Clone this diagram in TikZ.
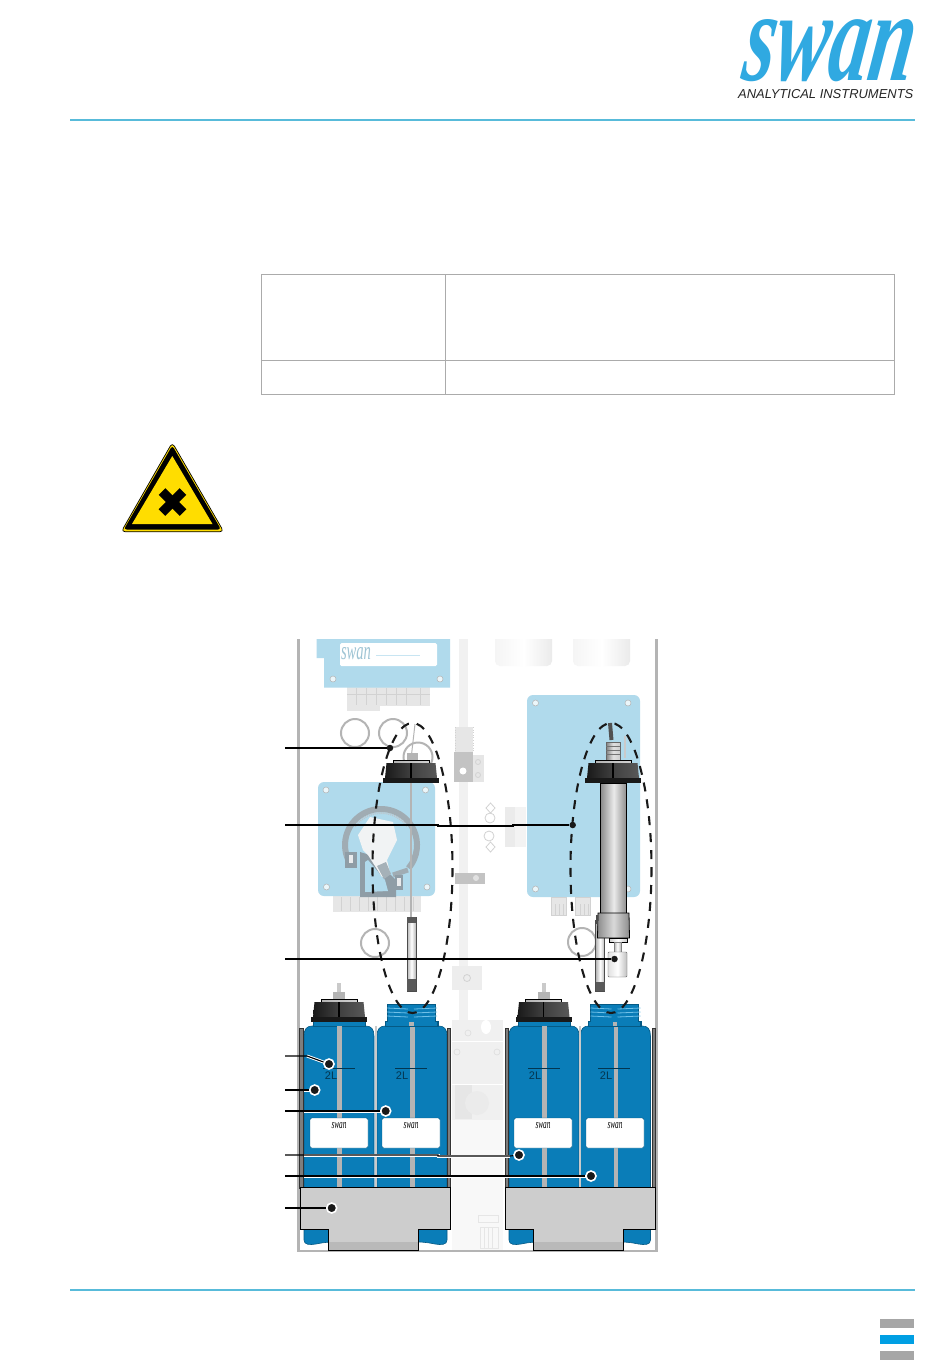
\documentclass[tikz,border=0pt]{standalone}
\usepackage{fontspec}
\usepackage{graphicx}
\setmainfont{Liberation Serif}
\setsansfont{Liberation Sans}
\definecolor{swanblue}{HTML}{30A9E1}
\definecolor{ruleblue}{HTML}{58BBDA}
\definecolor{panelblue}{HTML}{B0DAEC}
\definecolor{bottleblue}{HTML}{0A7DB8}
\definecolor{bottleedge}{HTML}{055A85}
\definecolor{threadblue}{HTML}{6FC0E8}
\definecolor{faint}{HTML}{E6E6E6}
\definecolor{faintline}{HTML}{D2D2D2}
\definecolor{wallgrey}{HTML}{B4B4B4}
\definecolor{traygrey}{HTML}{CDCDCD}
\definecolor{trayshade}{HTML}{B9B9B9}
\definecolor{signyellow}{HTML}{FFDD00}
\definecolor{tablegrey}{HTML}{ABABAB}
\definecolor{pumpgrey}{HTML}{8F9DA6}
\definecolor{footblue}{HTML}{009FE3}
\newcommand{\swanword}[2]{\resizebox{#1pt}{#2pt}{\itshape swan}}
\newcommand{\swanbold}[2]{\resizebox{#1pt}{#2pt}{\bfseries\itshape swan}}
\newcommand{\myscrew}[2]{\fill[white!75!panelblue,draw=wallgrey,line width=.5pt] (#1,#2) circle (3);}
\newcommand{\mycap}[2]{%
  \begin{scope}[shift={(#1,#2)}]
    \shade[left color=wallgrey,right color=faintline,draw=black,line width=.6pt] (-18,-23) rectangle (18,-19);
    \shade[left color=black!90,right color=black!65,middle color=black!75] (-24.5,-20) -- (24.5,-20) -- (26,-5) -- (-26,-5) -- cycle;
    \fill[black!90] (-28,-5) rectangle (28,0);
    \draw[black,line width=1.2pt] (0,-20) -- (0,-5);
  \end{scope}}
\newcommand{\mybottle}[4]{%
  \begin{scope}[shift={(#1,0)}]
    \fill[bottleblue,draw=bottleedge,line width=.6pt] (0,1240) -- (0,1036) .. controls (0,1029) and (3,1026) .. (8,1026) -- (62,1026) .. controls (67,1026) and (70,1029) .. (70,1036) -- (70,1240) .. controls (70,1245) and (64,1245) .. (58,1244) .. controls (45,1241) and (25,1241) .. (12,1244) .. controls (6,1245) and (0,1245) .. (0,1240) -- cycle;
    \fill[bottleblue,draw=bottleedge,line width=.6pt] (9,1021) rectangle (61,1026);
    \fill[wallgrey] (33,1026) rectangle (37.5,1188);
    \draw[bottleedge!60!black,line width=.7pt] (#2,1068) -- (#2+32,1068);
    \node[font=\sffamily\fontsize{11}{11}\selectfont,text=bottleedge!60!black,inner sep=0pt] (twol#1) at (#2+#4,1075.7) {2L};
    \fill[white,draw=bottleedge,line width=.4pt,rounded corners=1.5pt] (#3,1118) rectangle (#3+58,1148);
    \node[inner sep=0pt] (lab#1) at (#3+29,1126) {\swanword{15}{6}};
  \end{scope}}
\newcommand{\myneck}[1]{%
  \begin{scope}[shift={(#1,0)}]
    \fill[bottleblue,draw=bottleedge,line width=.6pt] (-26,1021) -- (-24,1021) -- (-24,1004) -- (24,1004) -- (24,1021) -- (26,1021) -- (26,1026) -- (-26,1026) -- cycle;
    \foreach \yy in {1008,1012,1016}{\draw[threadblue,line width=.8pt] (-24,\yy) -- (-3,\yy+1);\draw[threadblue,line width=.8pt] (3,\yy+1) -- (26,\yy);}
    \fill[wallgrey] (-2,1022) rectangle (2.5,1026);
  \end{scope}}
\newcommand{\mytube}[3]{%
  \shade[left color=wallgrey,right color=wallgrey,middle color=white,draw=black!70,line width=.5pt] (#1,#2) rectangle (#1+9,991);
  \fill[black!65] (#1,#3) rectangle (#1+9,991);}
\tikzset{
  leader/.style={black,line width=1.1pt},
  halo/.style={white,line width=3pt},
  leaderdot/.style={circle,fill=black!90,draw=white,line width=1.6pt,minimum size=10pt,inner sep=0pt},
  plaindot/.style={circle,fill=black!90,minimum size=6.5pt,inner sep=0pt},
  dashring/.style={black!90,line width=2.1pt,dash pattern=on 9pt off 8pt},
  ring/.style={draw=wallgrey,line width=2pt,fill=none},
  traybox/.style={fill=traygrey,draw=black,line width=1pt},
  wall/.style={fill=wallgrey!70!black,draw=black!80,line width=.6pt}
}
\begin{document}
\begin{tikzpicture}[x=1pt,y=-1pt]
\useasboundingbox[fill=white] (0,0) rectangle (950,1369);
% header / footer
\node[inner sep=0pt,text=swanblue,anchor=center,transform shape,xslant=.15] (logo) at (830,51) {\swanbold{170}{61}};
\node[inner sep=0pt,anchor=base west,font=\sffamily\itshape\fontsize{12.95}{14}\selectfont,text=black!85] (logotext) at (738,98.6) {ANALYTICAL INSTRUMENTS};
\draw[ruleblue,line width=1.1pt] (70,120) -- (915,120);
\draw[ruleblue,line width=1.1pt] (70,1290) -- (915,1290);
\fill[black!35] (880,1319) rectangle (914,1328);
\fill[footblue] (880,1335) rectangle (914,1344);
\fill[black!35] (880,1351) rectangle (914,1360);
% table
\draw[tablegrey,line width=1pt] (261,274) rectangle (894,394);
\draw[tablegrey,line width=1pt] (261,360) -- (894,360);
\draw[tablegrey,line width=1pt] (445,274) -- (445,394);
% warning sign
\fill[signyellow,draw=black,line width=.7pt,line join=round,rounded corners=4pt] (172.3,442.5) -- (223.8,531.8) -- (121.2,531.8) -- cycle;
\fill[black,rounded corners=3pt] (172.3,445.5) -- (221,529.5) -- (123.8,529.5) -- cycle;
\fill[signyellow] (172.3,456) -- (212.5,524) -- (132,524) -- cycle;
\draw[black,line width=9.5pt] (162,491.5) -- (183,512.5);
\draw[black,line width=9.5pt] (183,491.5) -- (162,512.5);
% enclosure
\fill[faint!55] (459,639) rectangle (468,1250);
\fill[faint!28] (452,1120) rectangle (503,1250);
\fill[wallgrey] (297,639) rectangle (300,1252);
\fill[wallgrey] (654.5,639) rectangle (657.5,1252);
\fill[wallgrey] (297,1249.5) rectangle (657.5,1252);
% top-left box
\fill[faint] (347,687) rectangle (430,706);
\fill[faint] (347,706) rectangle (380,711);
\foreach \xx in {356,366,376,386,396,406,420}{\draw[faintline,line width=.5pt] (\xx,688) -- (\xx,705);}
\draw[faintline,line width=.5pt] (347,694) -- (430,694);
\fill[panelblue] (316.7,639) -- (450,639) -- (450,687.5) -- (324,687.5) -- (324,658) -- (316.7,658) -- cycle;
\fill[white,rounded corners=1.5pt] (340,643) rectangle (437,666);
\node[inner sep=0pt,text=panelblue!90!black] (toplogo) at (356,654) {\swanword{30}{12}};
\draw[panelblue!70,line width=.6pt] (376,655) -- (420,655);
\myscrew{333}{679}
\myscrew{440}{679}
% cylinders
\shade[left color=black!4,right color=black!8,middle color=white,rounded corners=5pt] (495,630) rectangle (552,666);
\shade[left color=black!4,right color=black!8,middle color=white,rounded corners=5pt] (573,630) rectangle (630,666);
\fill[white] (490,620) rectangle (640,639);
% right panel
\fill[panelblue,rounded corners=6pt] (527,695) rectangle (640,897);
\myscrew{535.5}{703}
\myscrew{628}{703}
\myscrew{535.5}{889}
\myscrew{628}{889}
\fill[faint,draw=faintline,line width=.4pt] (551,897) rectangle (566,915);
\fill[faint,draw=faintline,line width=.4pt] (575,897) rectangle (590,915);
\foreach \xx in {555,559,563,580,584,588}{\draw[faintline,line width=.4pt] (\xx,904) -- (\xx,915);}
% rings
\draw[ring] (355,733) circle (14);
\draw[ring] (393,733) circle (14);
\draw[ring] (375,943) circle (14);
\draw[ring] (582,942) circle (14);
% left panel
\fill[faint] (333,896) rectangle (421,912);
\foreach \xx in {341,350,359,368,377,386,395,404,413}{\draw[faintline,line width=.5pt] (\xx,897) -- (\xx,911);}
\fill[panelblue,rounded corners=6pt] (318,782) rectangle (435,896);
\myscrew{326}{790}
\myscrew{425.5}{790}
\myscrew{326.5}{887}
\myscrew{427}{887}
% pump
\draw[pumpgrey!85,line width=6pt] (348.4,860.2) arc[start angle=155,end angle=400,radius=36];
\draw[pumpgrey!60,line width=2pt,dash pattern=on 1pt off 1pt] (355,826.6) arc[start angle=215,end angle=325,radius=32];
\draw[pumpgrey!85,line width=5pt] (408,870) -- (393,875);
\fill[pumpgrey] (345,852) rectangle (357,868);
\fill[white!80!pumpgrey] (349,855) rectangle (353,863);
\fill[pumpgrey] (395,875) rectangle (403,890);
\fill[white!80!pumpgrey] (397,878) rectangle (401,886);
\fill[pumpgrey] (360,852) -- (370,855) -- (375,860) -- (396,880) -- (396,897) -- (360,897) -- cycle;
\fill[panelblue] (365,862) -- (368,860) -- (385,880) -- (388,891) -- (365,892) -- cycle;
\fill[white!88!pumpgrey] (358,835) -- (363,850) -- (368,855) -- (382,877) -- (390,873) -- (387,860) -- (397,840) -- (393,822) -- (370,817) -- cycle;
\fill[pumpgrey!80] (377,866) -- (386,862) -- (391,874) -- (384,879) -- cycle;
% centre parts
\fill[faint] (455,727) rectangle (473,752);
\draw[faintline,dotted,line width=.6pt] (455,727) -- (455,752) (473,727) -- (473,752);
\fill[faint] (473,755) rectangle (484,782);
\fill[wallgrey!80] (454,752) rectangle (473,782);
\fill[white] (463,771) circle (3.5);
\draw[faintline,line width=.8pt] (478,762) circle (2.5) (478,775) circle (2.5);
\fill[wallgrey!80] (455,873) rectangle (485,884);
\fill[white!60!wallgrey] (476,878) circle (3);
\fill[faint!50] (505,807) rectangle (526,847);
\fill[faint!80] (505,807) rectangle (515,847);
\draw[faintline,line width=.8pt] (490.5,803) -- (495,808) -- (490.5,813) -- (486,808) -- cycle;
\draw[faintline,line width=.8pt] (490.5,842) -- (495,847) -- (490.5,852) -- (486,847) -- cycle;
\draw[faintline,line width=.8pt] (490,818) circle (5) (489,836) circle (5);
\fill[faint!70] (452,966) rectangle (482,990);
\draw[faintline,line width=.8pt] (467,978) circle (3.5);
\fill[faint!60] (452,1020) rectangle (503,1120);
\draw[white,line width=.8pt] (452,1041) -- (503,1041) (452,1084) -- (503,1084);
\fill[faint] (455,1085) rectangle (472,1119);
\fill[white] (486,1027) ellipse (5 and 7);
\fill[white!92!black] (477,1103) circle (12);
\draw[faintline!70,line width=.7pt] (468,1033) circle (3) (457,1052) circle (3) (497,1052) circle (3);
\draw[faint,line width=.6pt] (478,1215) rectangle (498,1222);
\draw[faint,line width=.6pt] (480,1227) rectangle (498,1248);
\foreach \xx in {484,488,492}{\draw[faint,line width=.5pt] (\xx,1227) -- (\xx,1248);}
% left tube and lines
\draw[wallgrey,line width=1pt] (415,724) -- (411.7,753);
\draw[wallgrey,line width=2pt] (418,757) circle (14.5);
\fill[wallgrey] (407,753) rectangle (418,762);
\draw[wallgrey,line width=1.2pt] (411,783) -- (411,918);
\mytube{407}{917}{979}
\fill[black!65] (407,917) rectangle (416,923);
% right sensor
\fill[wallgrey!70] (623.5,736) rectangle (626,758);
\draw[black!55!wallgrey,line width=4pt] (610,723) -- (611.5,740);
\shade[left color=black!50,right color=black!20,middle color=black!12,draw=black!60,line width=.4pt] (606,742) rectangle (620,761);
\foreach \yy in {746,750,754}{\draw[black!55,line width=.5pt] (606,\yy) -- (620,\yy);}
\mytube{595.7}{920}{981.7}
\shade[left color=black!45,right color=black!45,middle color=black!8,draw=black,line width=1pt] (600.7,783) rectangle (626.7,914);
\shade[left color=black!45,right color=black!45,middle color=black!15,draw=black,line width=.8pt] (598,913) -- (629,913) -- (629.5,938) -- (597.5,938) -- cycle;
\fill[black!70] (595.5,915) rectangle (598,924);
\shade[left color=black!20,right color=black!20,middle color=white,draw=black,line width=.6pt] (609,938) rectangle (627,942);
\shade[left color=black!30,right color=black!30,middle color=white,draw=black!50,line width=.4pt] (614,942) rectangle (621,952);
\shade[left color=black!12,right color=black!25,middle color=white,draw=black!60,line width=.4pt,rounded corners=1pt] (608,952) rectangle (627,977);
\mycap{411}{783}
\mycap{613}{783}
% bottles
\mybottle{304}{19}{6}{8}
\mybottle{377}{18}{5}{7}
\mybottle{509}{19}{5}{7}
\mybottle{580.5}{17.5}{5.5}{8}
\mycap{339}{1022}
\mycap{543.5}{1022}
\fill[wallgrey] (333,992) rectangle (345,999);
\fill[wallgrey!70] (337,983) rectangle (341,992);
\fill[wallgrey] (537.5,992) rectangle (549.5,999);
\fill[wallgrey!70] (541.5,983) rectangle (545.5,992);
\myneck{411}
\myneck{614.5}
% walls and trays
\draw[wall] (299.5,1028) rectangle (303,1188);
\draw[wall] (447,1028) rectangle (450,1188);
\draw[wall] (505.5,1028) rectangle (508.5,1188);
\draw[wall] (652,1028) rectangle (655,1188);
\fill[wallgrey!70] (375,1026) rectangle (377,1188);
\fill[wallgrey!70] (579,1026) rectangle (580.5,1188);
\draw[traybox] (300.5,1187) -- (450.5,1187) -- (450.5,1229) -- (418,1229) -- (418,1250) -- (328,1250) -- (328,1229) -- (300.5,1229) -- cycle;
\fill[trayshade] (328.5,1242) rectangle (417.5,1249.5);
\draw[traybox] (505,1187) -- (655.5,1187) -- (655.5,1229) -- (623,1229) -- (623,1250) -- (533,1250) -- (533,1229) -- (505,1229) -- cycle;
\fill[trayshade] (533.5,1242) rectangle (622.5,1249.5);
% dashed ellipses
\draw[dashring] (412.5,868) ellipse (40 and 145);
\draw[dashring] (611,868) ellipse (40.5 and 145);
% leader ends
\coordinate (s1) at (285,748);
\coordinate (s2) at (285,825);
\coordinate (k2a) at (438,825);
\coordinate (k2b) at (438,826);
\coordinate (k2c) at (513,826);
\coordinate (k2d) at (513,825);
\coordinate (s3) at (285,959);
\coordinate (s4) at (285,1056);
\coordinate (k4) at (307,1056);
\coordinate (s5) at (285,1090);
\coordinate (s6) at (285,1111);
\coordinate (s7) at (285,1155);
\coordinate (k7a) at (438,1155);
\coordinate (k7b) at (438,1156);
\coordinate (k7c) at (510,1156);
\coordinate (s8) at (285,1176);
\coordinate (s9) at (285,1208);
\draw[halo] (k4) -- (329,1064);
\draw[halo] (304,1090) -- (314.7,1090);
\draw[halo] (304,1111) -- (385.7,1111);
\draw[halo] (304,1155) -- (k7a) -- (k7b) -- (k7c);
\draw[halo] (304,1176) -- (591,1176);
\node[plaindot] (d1) at (390,748) {};
\node[plaindot] (d2) at (572.7,825) {};
\node[plaindot] (d3) at (614.5,959) {};
\node[leaderdot] (d4) at (329,1064) {};
\node[leaderdot] (d5) at (314.7,1090) {};
\node[leaderdot] (d6) at (385.7,1111) {};
\node[leaderdot] (d7) at (519,1155) {};
\node[leaderdot] (d8) at (591,1176) {};
\node[leaderdot] (d9) at (331.7,1208) {};
\draw[leader] (s1) -- (d1);
\draw[leader] (s2) -- (k2a) -- (k2b) -- (k2c) -- (k2d) -- (d2);
\draw[leader] (s3) -- (d3);
\draw[leader] (s4) -- (k4) -- (d4);
\draw[leader] (s5) -- (d5);
\draw[leader] (s6) -- (d6);
\draw[leader] (s7) -- (k7a) -- (k7b) -- (k7c) -- (d7);
\draw[leader] (s8) -- (d8);
\draw[leader] (s9) -- (d9);
\end{tikzpicture}
\end{document}
